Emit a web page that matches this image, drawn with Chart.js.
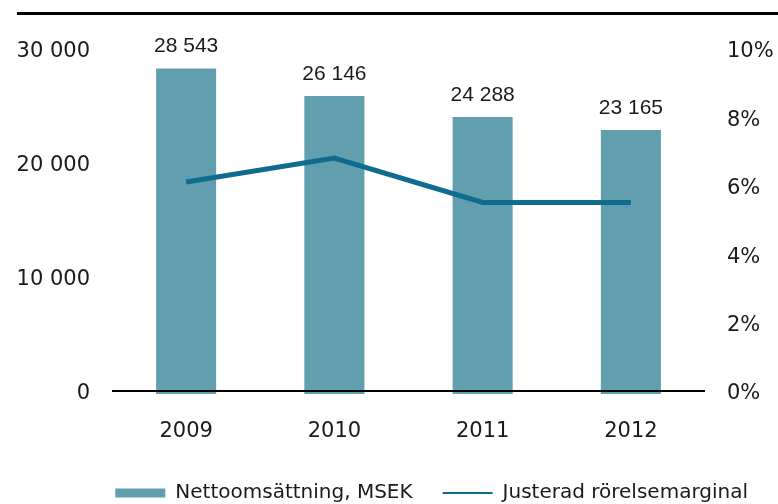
<!DOCTYPE html>
<html>
<head>
<meta charset="utf-8">
<script src="https://cdn.jsdelivr.net/npm/chart.js@4"></script>
<style>
  html, body { margin: 0; padding: 0; background: #fff; }
  #wrap { position: relative; width: 778px; height: 504px; }
</style>
</head>
<body>
<div id="wrap"><canvas id="combo-chart"></canvas></div>
<script>
// data
const years = ["2009", "2010", "2011", "2012"];
const netSales = [28543, 26146, 24288, 23165];       // MSEK
const adjMargin = [6.2, 6.9, 5.6, 5.6];              // %
const salesTicks = [0, 10000, 20000, 30000];
const marginTicks = [0, 2, 4, 6, 8, 10];

const barColor = "#619eae";
const lineColor = "#0f6c8f";
const textColor = "#1a1a1a";

function spaced(n) {
    return String(n).replace(/\B(?=(\d{3})+(?!\d))/g, " ");
}

// top rule + baseline + value labels
const decorations = {
    id: "decorations",
    beforeDraw(chart) {
        const ctx = chart.ctx;
        ctx.save();
        ctx.fillStyle = "#000";
        ctx.fillRect(17, 12, chart.width - 17, 3);
        ctx.restore();
    },
    afterDatasetsDraw(chart) {
        const ctx = chart.ctx;
        const area = chart.chartArea;
        const y0 = chart.scales.y.getPixelForValue(0) - 3;
        ctx.save();
        ctx.strokeStyle = "#000";
        ctx.lineWidth = 2;
        ctx.beginPath();
        ctx.moveTo(area.left, y0);
        ctx.lineTo(area.right, y0);
        ctx.stroke();

        ctx.fillStyle = textColor;
        ctx.font = "21px 'Liberation Sans', Arial, sans-serif";
        ctx.textAlign = "center";
        ctx.textBaseline = "middle";
        chart.getDatasetMeta(0).data.forEach((bar, i) => {
            ctx.fillText(spaced(netSales[i]), bar.x, bar.y - 22);
        });
        ctx.restore();
    }
};

new Chart(document.getElementById("combo-chart"), {
    type: 'bar',
    plugins: [decorations],
    data: {
        labels: years,
        datasets: [{
            label: "Nettoomsättning, MSEK",
            data: netSales,
            backgroundColor: barColor,
            yAxisID: "y",
            order: 1,
            categoryPercentage: 1,
            barPercentage: 0.405
        }, {
            type: 'line',
            label: "Justerad rörelsemarginal",
            data: adjMargin,
            borderColor: lineColor,
            backgroundColor: lineColor,
            borderWidth: 5,
            pointRadius: 0,
            tension: 0,
            yAxisID: "y1",
            order: 0
        }]
    },
    options: {
        responsive: true,
        maintainAspectRatio: false,
        animation: false,
        layout: { padding: { top: 52, left: 0, right: 0, bottom: -9 } },
        plugins: {
            tooltip: { enabled: false },
            legend: {
                position: 'bottom',
                align: 'end',
                labels: {
                    usePointStyle: true,
                    pointStyleWidth: 50,
                    boxHeight: 9,
                    padding: 30,
                    color: textColor,
                    font: { family: "'DejaVu Sans', sans-serif", size: 20 },
                    sort: (a, b) => a.datasetIndex - b.datasetIndex,
                    generateLabels(chart) {
                        const items = Chart.defaults.plugins.legend.labels.generateLabels(chart);
                        items.forEach(item => {
                            if (item.datasetIndex === 0) {
                                item.pointStyle = 'rect';
                                item.fillStyle = barColor;
                                item.strokeStyle = barColor;
                                item.lineWidth = 0;
                            } else {
                                item.pointStyle = 'line';
                                item.strokeStyle = lineColor;
                                item.lineWidth = 2;
                            }
                        });
                        return items;
                    }
                }
            }
        },
        scales: {
            x: {
                grid: { display: false, drawTicks: false },
                border: { display: false },
                ticks: {
                    padding: 25,
                    color: textColor,
                    font: { family: "'DejaVu Sans', sans-serif", size: 21 }
                },
                afterFit(s) { s.height = 59; }
            },
            y: {
                position: 'left',
                min: 0,
                max: 30000,
                afterBuildTicks(s) { s.ticks = salesTicks.map(v => ({ value: v })); },
                grid: { display: false, drawTicks: false },
                border: { display: false },
                ticks: {
                    padding: 22,
                    color: textColor,
                    font: { family: "'DejaVu Sans', sans-serif", size: 21 },
                    callback: v => spaced(v)
                },
                afterFit(s) { s.width = 112; }
            },
            y1: {
                position: 'right',
                min: 0,
                max: 10,
                afterBuildTicks(s) { s.ticks = marginTicks.map(v => ({ value: v })); },
                grid: { display: false, drawTicks: false },
                border: { display: false },
                ticks: {
                    padding: 22,
                    color: textColor,
                    font: { family: "'DejaVu Sans', sans-serif", size: 21 },
                    callback: v => v + "%"
                },
                afterFit(s) { s.width = 73; }
            }
        }
    }
});
</script>
</body>
</html>
